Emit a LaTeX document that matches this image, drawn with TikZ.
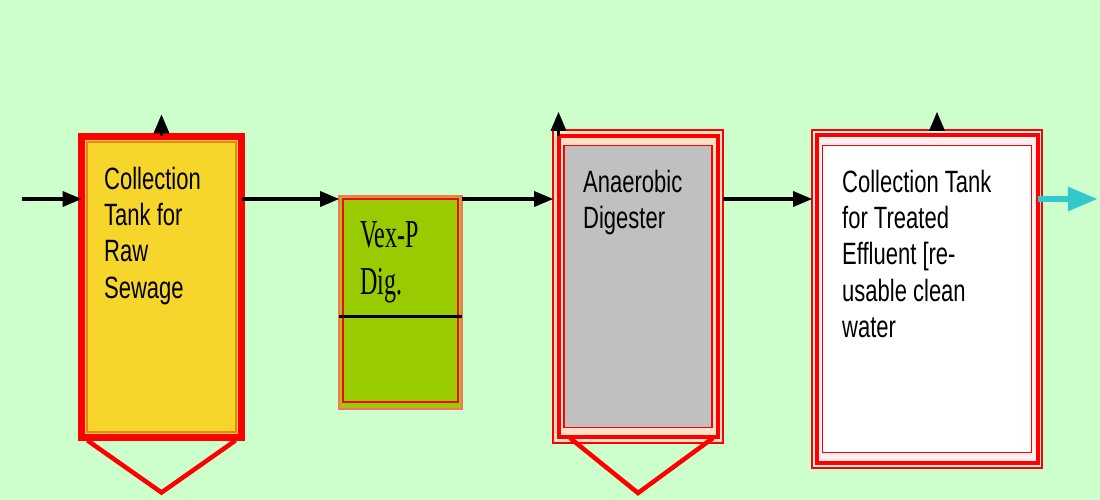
\documentclass[tikz,border=0pt]{standalone}
\usepackage{fontspec}
\setmainfont{Liberation Serif}
\setsansfont{Liberation Sans}
\usetikzlibrary{arrows,calc}
\definecolor{bg_green}{RGB}{204, 255, 204}
\definecolor{tank_yellow}{RGB}{246, 214, 42}
\definecolor{tank_orange}{RGB}{240, 130, 30}
\definecolor{vex_green}{RGB}{153, 204, 0}
\definecolor{vex_rim}{RGB}{255, 110, 100}
\definecolor{dig_grey}{RGB}{192, 192, 192}
\definecolor{rim_peach}{RGB}{255, 225, 200}
\definecolor{rim_white}{RGB}{255, 238, 238}
\definecolor{out_cyan}{RGB}{51, 200, 204}
\newcommand{\sanslines}[1]{\scalebox{1}[1.4]{\fontsize{22}{26}\sffamily\selectfont
  \begin{tabular}[t]{@{}l@{}}#1\end{tabular}}}
\newcommand{\seriflines}[1]{\scalebox{1}[1.65]{\fontsize{24}{29}\rmfamily\selectfont
  \begin{tabular}[t]{@{}l@{}}#1\end{tabular}}}
\tikzstyle{rawtank}=[rectangle,fill=tank_yellow,draw=red,line width=7pt,outer sep=0pt,
  inner sep=0pt,minimum width=160pt,minimum height=301pt]
\tikzstyle{rawrim}=[rectangle,draw=tank_orange,line width=1.5pt,outer sep=0pt,
  inner sep=0pt,minimum width=149pt,minimum height=290pt]
\tikzstyle{vexdig}=[rectangle,fill=vex_green,draw=vex_rim,line width=2.5pt,outer sep=0pt,
  inner sep=0pt,minimum width=123pt,minimum height=213pt]
\tikzstyle{vexrim}=[rectangle,draw=red,line width=1.8pt,outer sep=0pt,
  inner sep=0pt,minimum width=115pt,minimum height=203pt]
\tikzstyle{thinrim}=[rectangle,fill=rim_peach,draw=red,line width=1.5pt,outer sep=0pt,
  inner sep=0pt]
\tikzstyle{thickrim}=[rectangle,fill=rim_peach,draw=red,line width=4pt,outer sep=0pt,
  inner sep=0pt]
\tikzstyle{label}=[anchor=base west,inner sep=0pt]
\tikzstyle{flow}=[->,>=triangle 45,line width=3.5pt]
\tikzstyle{hopper}=[draw=red,line width=4.5pt,line join=miter]
\tikzstyle{none}=[]

\begin{document}
\begin{tikzpicture}[x=1pt,y=-1pt]
        \fill [bg_green] (0,0) rectangle (1100,500);
        \useasboundingbox (0,0) rectangle (1100,500);
        \coordinate (in) at (22,199);
        \coordinate (out) at (1097,199);
        % raw sewage tank
        \node [style=rawtank] (1) at (161.5,287) {};
        \node [style=rawrim] (1i) at (1.center) {};
        \node [style=label] (1t) at (104,189) {\sanslines{Collection\\Tank for\\Raw\\Sewage}};
        % vex-p
        \node [style=vexdig] (2) at (400.5,302.5) {};
        \node [style=vexrim] (2i) at ($(2.center)+(0,-2)$) {};
        \node [style=label] (2t) at (360,247) {\seriflines{Vex-P\\Dig.}};
        % digester
        \node [style=thinrim,minimum width=170pt,minimum height=313pt] (3o) at (638,286.5) {};
        \node [style=thickrim,minimum width=159pt,minimum height=301pt] (3) at (3o.center) {};
        \node [style=thinrim,fill=dig_grey,minimum width=148pt,minimum height=282pt] (3i) at (3o.center) {};
        \node [style=label] (3t) at (583,192) {\sanslines{Anaerobic\\Digester}};
        % treated effluent
        \node [style=thinrim,fill=rim_white,minimum width=230pt,minimum height=338pt] (4o) at (927,299) {};
        \node [style=thickrim,fill=rim_white,minimum width=221pt,minimum height=327pt] (4) at (4o.center) {};
        \node [style=thinrim,fill=white,minimum width=209pt,minimum height=307pt] (4i) at (4o.center) {};
        \node [style=label] (4t) at (842,192) {\sanslines{Collection Tank\\for Treated\\Effluent [re-\\usable clean\\water}};
        \draw [line width=3pt] ($(2.west)+(0,13.5)$) to ($(2.east)+(0,13.5)$);
        \draw [style=hopper] ($(1.south)+(-74,3)$) -- ($(1.south)+(0,55)$) -- ($(1.south)+(74,3)$);
        \draw [style=hopper] ($(3.south)+(-68,1)$) -- ($(3.south)+(0,56)$) -- ($(3.south)+(75,1)$);
        \draw [style=flow] (in) to (in -| 1.west);
        \draw [style=flow] (in -| 1.east) to (in -| 2.west);
        \draw [style=flow] (in -| 2.east) to (in -| 3o.west);
        \draw [style=flow] (in -| 3o.east) to (in -| 4o.west);
        \draw [style=flow,draw=out_cyan,line width=6pt] (in -| 4.east) to (out);
        \draw [style=flow] (1.north) to ++(0,-22);
        \draw [style=flow] (3.north west) to ++(0,-24);
        \draw [style=flow] ($(4o.north)+(10,0)$) to ++(0,-18);
    \end{tikzpicture}
\end{document}
